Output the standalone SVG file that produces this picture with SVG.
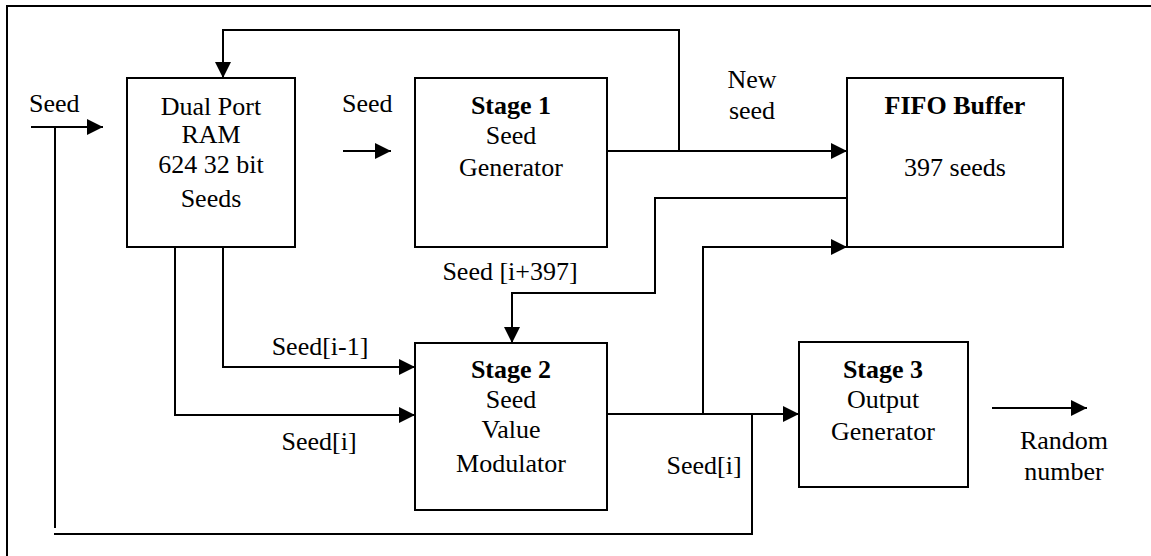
<svg xmlns="http://www.w3.org/2000/svg" width="1151" height="556" viewBox="0 0 1151 556" font-family="Liberation Serif, serif">
<style>
text{font-family:'Liberation Serif','Times New Roman',serif;font-size:26px;fill:#000}
.b{font-weight:bold}
.m{text-anchor:middle}
.box{fill:#fff;stroke:#000;stroke-width:2}
.ln{fill:none;stroke:#000;stroke-width:2}
</style>
<defs>
<marker id="ar" markerUnits="userSpaceOnUse" markerWidth="16" markerHeight="16" refX="15" refY="7.5" orient="auto" viewBox="0 0 15 15">
<path d="M0,0 L15,7.5 L0,15 z" fill="#000"/>
</marker>
</defs>
<path class="ln" d="M7,556 V6 H1151"/>
<g id="connectors">
<path class="ln" d="M679,151 V30 H223 V78" marker-end="url(#ar)"/>
<path class="ln" d="M607,151 H847" marker-end="url(#ar)"/>
<path class="ln" d="M847,198 H655 V293 H512 V343" marker-end="url(#ar)"/>
<path class="ln" d="M703,414 V247 H847" marker-end="url(#ar)"/>
<path class="ln" d="M607,414 H799" marker-end="url(#ar)"/>
<path class="ln" d="M752,413 V534 H54"/>
<path class="ln" d="M55,528 V127"/>
<path class="ln" d="M31,127 H103" marker-end="url(#ar)"/>
<path class="ln" d="M343,151 H391" marker-end="url(#ar)"/>
<path class="ln" d="M223,247 V367 H415" marker-end="url(#ar)"/>
<path class="ln" d="M175,247 V415 H415" marker-end="url(#ar)"/>
<path class="ln" d="M992,408 H1087" marker-end="url(#ar)"/>
</g>
<g id="labels">
<text x="29" y="112">Seed</text>
<text x="342" y="112">Seed</text>
<text class="m" x="752" y="88">New</text>
<text class="m" x="752" y="119">seed</text>
<text class="m" x="510" y="280">Seed [i+397]</text>
<text class="m" x="320" y="355">Seed[i-1]</text>
<text class="m" x="319" y="450">Seed[i]</text>
<text class="m" x="704" y="474">Seed[i]</text>
<text class="m" x="1064" y="449">Random</text>
<text class="m" x="1064" y="480">number</text>
</g>
<g id="ram">
<rect class="box" x="127" y="78" width="168" height="169"/>
<text class="m" x="211" y="115">Dual Port</text>
<text class="m" x="211" y="143">RAM</text>
<text class="m" x="211" y="173">624 32 bit</text>
<text class="m" x="211" y="207">Seeds</text>
</g>
<g id="stage1">
<rect class="box" x="415" y="78" width="192" height="169"/>
<text class="m b" x="511" y="114">Stage 1</text>
<text class="m" x="511" y="144">Seed</text>
<text class="m" x="511" y="176">Generator</text>
</g>
<g id="fifo">
<rect class="box" x="847" y="78" width="216" height="169"/>
<text class="m b" x="955" y="114">FIFO Buffer</text>
<text class="m" x="955" y="176">397 seeds</text>
</g>
<g id="stage2">
<rect class="box" x="415" y="343" width="192" height="167"/>
<text class="m b" x="511" y="378">Stage 2</text>
<text class="m" x="511" y="408">Seed</text>
<text class="m" x="511" y="438">Value</text>
<text class="m" x="511" y="472">Modulator</text>
</g>
<g id="stage3">
<rect class="box" x="799" y="342" width="169" height="145"/>
<text class="m b" x="883" y="378">Stage 3</text>
<text class="m" x="883" y="408">Output</text>
<text class="m" x="883" y="440">Generator</text>
</g>
</svg>
